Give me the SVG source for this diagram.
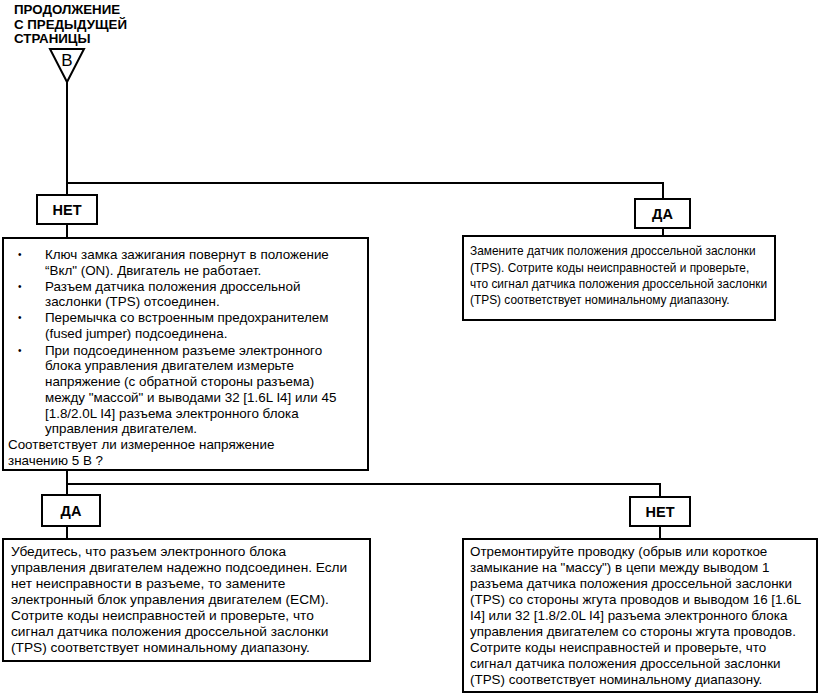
<svg xmlns="http://www.w3.org/2000/svg" width="835" height="700" viewBox="0 0 835 700">
<style>
.box{fill:#fff;stroke:#000;stroke-width:2}
.ln{fill:none;stroke:#000;stroke-width:2}
.t{font-family:"Liberation Sans",Arial,sans-serif;font-size:13.4px;fill:#000}
.s{font-size:11.9px}
.m{font-size:13.7px}
.b{font-size:10px}
.h{font-family:"Liberation Sans",Arial,sans-serif;font-size:13.3px;font-weight:bold;fill:#000}
.lb{font-family:"Liberation Sans",Arial,sans-serif;font-size:14.5px;font-weight:bold;fill:#000;text-anchor:middle}
</style>
<rect width="835" height="700" fill="#fff"/>
<g id="connectors">
<path class="ln" d="M67,82 V183 H663 V199"/>
<path class="ln" d="M67,183 V195"/>
<path class="ln" d="M67,224 V238"/>
<path class="ln" d="M663,228 V236"/>
<path class="ln" d="M67,470 V484 H660 V497"/>
<path class="ln" d="M67,484 V495"/>
<path class="ln" d="M67,526 V539"/>
<path class="ln" d="M660,526 V539"/>
</g>
<g id="start">
<text class="h" x="14" y="13.5">ПРОДОЛЖЕНИЕ</text>
<text class="h" x="14" y="28.5">С ПРЕДЫДУЩЕЙ</text>
<text class="h" x="14" y="43">СТРАНИЦЫ</text>
<polygon class="ln" points="50,49 84,49 67,82"/>
<text x="67" y="66" font-family="Liberation Sans,Arial,sans-serif" font-size="17" text-anchor="middle">B</text>
</g>
<g id="no1">
<rect class="box" x="37" y="195" width="60" height="29"/>
<text class="lb" x="67" y="215">НЕТ</text>
</g>
<g id="check">
<rect class="box" x="3" y="238" width="365" height="232"/>
<g class="t">
<text class="b" x="18" y="258">•</text>
<text x="45" y="259">Ключ замка зажигания повернут в положение</text>
<text x="45" y="274.6">“Вкл" (ON). Двигатель не работает.</text>
<text class="b" x="18" y="289.8">•</text>
<text x="45" y="290.8">Разъем датчика положения дроссельной</text>
<text x="45" y="306.4">заслонки (TPS) отсоединен.</text>
<text class="b" x="18" y="321.4">•</text>
<text x="45" y="322.4">Перемычка со встроенным предохранителем</text>
<text x="45" y="338">(fused jumper) подсоединена.</text>
<text class="b" x="18" y="353.6">•</text>
<text x="45" y="354.6">При подсоединенном разъеме электронного</text>
<text x="45" y="370.4">блока управления двигателем измерьте</text>
<text x="45" y="386">напряжение (с обратной стороны разъема)</text>
<text x="45" y="401.8">между "массой" и выводами 32 [1.6L I4] или 45</text>
<text x="45" y="417.6">[1.8/2.0L I4] разъема электронного блока</text>
<text x="45" y="433.2">управления двигателем.</text>
<text x="8" y="449">Соответствует ли измеренное напряжение</text>
<text x="8" y="464.6">значению 5 В ?</text>
</g>
</g>
<g id="yes1">
<rect class="box" x="635" y="199" width="55" height="29"/>
<text class="lb" x="662.5" y="219">ДА</text>
</g>
<g id="replaceTPS">
<rect class="box" x="463" y="236" width="312" height="84"/>
<g class="t s">
<text x="470" y="255">Замените датчик положения дроссельной заслонки</text>
<text x="470" y="271.5">(TPS). Сотрите коды неисправностей и проверьте,</text>
<text x="470" y="288">что сигнал датчика положения дроссельной заслонки</text>
<text x="470" y="304">(TPS) соответствует номинальному диапазону.</text>
</g>
</g>
<g id="yes2">
<rect class="box" x="42" y="495" width="58" height="31"/>
<text class="lb" x="71" y="516">ДА</text>
</g>
<g id="replaceECM">
<rect class="box" x="3" y="539" width="367" height="122"/>
<g class="t m">
<text x="11" y="556">Убедитесь, что разъем электронного блока</text>
<text x="11" y="572">управления двигателем надежно подсоединен. Если</text>
<text x="11" y="588">нет неисправности в разъеме, то замените</text>
<text x="11" y="604">электронный блок управления двигателем (ECM).</text>
<text x="11" y="620">Сотрите коды неисправностей и проверьте, что</text>
<text x="11" y="636">сигнал датчика положения дроссельной заслонки</text>
<text x="11" y="652">(TPS) соответствует номинальному диапазону.</text>
</g>
</g>
<g id="no2">
<rect class="box" x="630" y="497" width="60" height="29"/>
<text class="lb" x="660" y="517">НЕТ</text>
</g>
<g id="repairWiring">
<rect class="box" x="463" y="539" width="354" height="153"/>
<g class="t">
<text x="470" y="556">Отремонтируйте проводку (обрыв или короткое</text>
<text x="470" y="572">замыкание на "массу") в цепи между выводом 1</text>
<text x="470" y="588">разъема датчика положения дроссельной заслонки</text>
<text x="470" y="604">(TPS) со стороны жгута проводов и выводом 16 [1.6L</text>
<text x="470" y="620">I4] или 32 [1.8/2.0L I4] разъема электронного блока</text>
<text x="470" y="636">управления двигателем со стороны жгута проводов.</text>
<text x="470" y="652">Сотрите коды неисправностей и проверьте, что</text>
<text x="470" y="668">сигнал датчика положения дроссельной заслонки</text>
<text x="470" y="684">(TPS) соответствует номинальному диапазону.</text>
</g>
</g>
</svg>
